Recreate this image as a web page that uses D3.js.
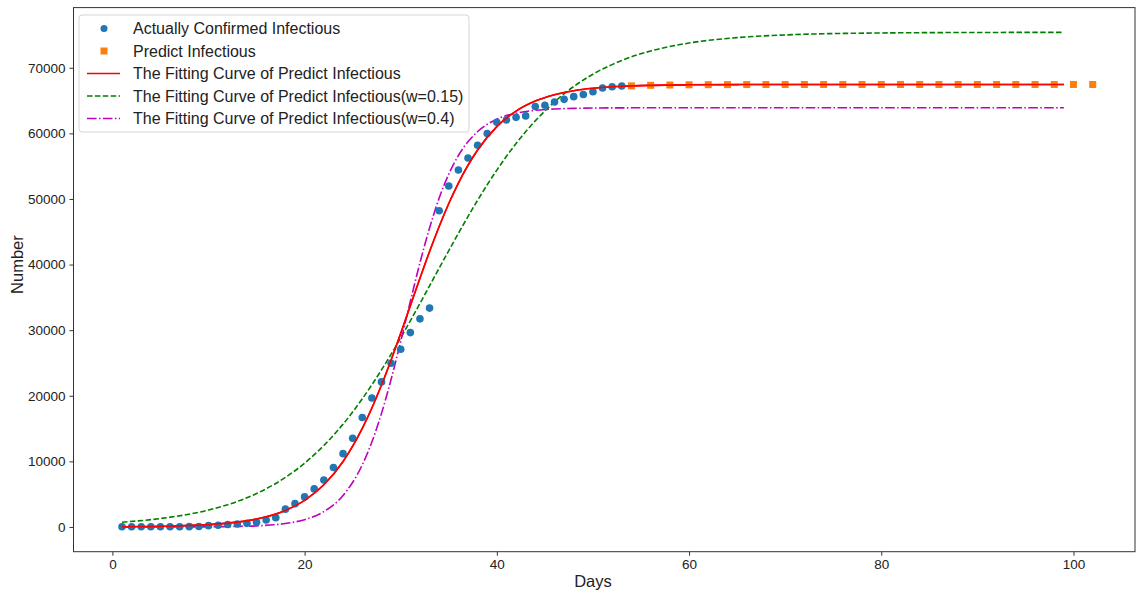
<!DOCTYPE html>
<html>
<head>
<meta charset="utf-8">
<script src="https://cdn.jsdelivr.net/npm/d3@7.9.0/dist/d3.min.js"></script>
<style>
  body { margin: 0; background: #fff; }
  svg { display: block; font-family: "Liberation Sans", Arial, sans-serif; }
</style>
</head>
<body>
<svg id="chart" width="1137" height="594"></svg>
<script>
// --- DATA ---
// actually confirmed, days 1..53
const actualDays = d3.range(1, 54);
const actualValues = [
  41, 41, 41, 41, 41, 41, 41, 45, 62, 198,
  270, 375, 444, 549, 729, 1052, 1423, 2714, 3554, 4586,
  5806, 7153, 9074, 11177, 13522, 16678, 19665, 22112, 24953, 27100,
  29631, 31728, 33366, 48206, 51986, 54406, 56249, 58182, 59989, 61682,
  62031, 62442, 62662, 64084, 64287, 64786, 65187, 65596, 65914, 66337,
  66907, 67103, 67217
];

// predicted, every second day from 54 to 102
const predictDays = d3.range(54, 103, 2);
const predictValues = [
  67235, 67320, 67370, 67402, 67420, 67431, 67438, 67443, 67446, 67447,
  67448, 67449, 67449, 67450, 67450, 67450, 67450, 67450, 67450, 67450,
  67450, 67450, 67450, 67450, 67450
];

// fitted curves, sampled at these days
const curveDays = [1, 5, 10, 13, 15, 18, 20, 22, 24, 26, 27, 28, 29, 30, 31, 32, 33, 34, 35, 36,
  38, 40, 42, 44, 46, 48, 50, 53, 56, 60, 65, 70, 80, 90, 99];
const fitValues = [37, 101, 352, 741, 1210, 2518, 4053, 6431, 9985, 15022,
  18141, 21640, 25465, 29531, 33725, 37918, 41985, 45810, 49310, 52428,
  57464, 61020, 63399, 64931, 65900, 66502, 66872, 67175, 67320, 67402,
  67436, 67446, 67450, 67450, 67450];
const fit015Values = [731, 1287, 2583, 3895, 5098, 7555, 9729, 12422, 15676, 19534,
  21673, 23944, 26337, 28845, 31430, 34071, 36760, 39456, 42123, 44758,
  49802, 54401, 58450, 61905, 64789, 67136, 69016, 71120, 72556, 73770,
  74594, 75003, 75304, 75377, 75395];
const fit04Values = [1, 4, 25, 80, 169, 528, 1117, 2341, 4805, 9467,
  12961, 17317, 22500, 28299, 34373, 40264, 45578, 50130, 53793, 56624,
  60277, 62154, 63071, 63509, 63716, 63810, 63860, 63888, 63897, 63900,
  63900, 63900, 63900, 63900, 63900];

const xTicks = [0, 20, 40, 60, 80, 100];
const yTicks = [0, 10000, 20000, 30000, 40000, 50000, 60000, 70000];

// --- LAYOUT ---
const svg = d3.select("#chart");
const plotL = 73.5, plotR = 1135, plotT = 7.6, plotB = 551.7;

const x = d3.scaleLinear().domain([-4.047, 106.4]).range([plotL, plotR]);
const y = d3.scaleLinear().domain([-3770, 79170]).range([plotB, plotT]);

// axes
const xAxis = svg.append("g")
  .attr("transform", `translate(0,${plotB})`)
  .call(d3.axisBottom(x).tickValues(xTicks).tickSize(4).tickPadding(4));
const yAxis = svg.append("g")
  .attr("transform", `translate(${plotL},0)`)
  .call(d3.axisLeft(y).tickValues(yTicks).tickSize(4).tickPadding(4).tickFormat(d3.format("d")));

[xAxis, yAxis].forEach(g => {
  g.select(".domain").remove();
  g.selectAll("line").attr("stroke", "#333").attr("stroke-width", 1);
  g.selectAll("text").attr("fill", "#222").style("font-size", "13.5px")
    .style("font-family", '"Liberation Sans", Arial, sans-serif');
});

// frame
svg.append("rect")
  .attr("x", plotL).attr("y", plotT)
  .attr("width", plotR - plotL).attr("height", plotB - plotT)
  .attr("fill", "none").attr("stroke", "#333").attr("stroke-width", 1);

// axis labels
svg.append("text")
  .attr("x", x(50)).attr("y", 587)
  .attr("text-anchor", "middle")
  .style("font-size", "16.5px").attr("fill", "#222")
  .text("Days");
svg.append("text")
  .attr("transform", `translate(23,${y(40000)}) rotate(-90)`)
  .attr("text-anchor", "middle")
  .style("font-size", "16.5px").attr("fill", "#222")
  .text("Number");

// --- MARKS ---
const plot = svg.append("g");

const line = d3.line()
  .x(d => x(d[0]))
  .y(d => y(d[1]))
  .curve(d3.curveMonotoneX);

const curves = [
  { values: fit015Values, color: "#008000", dash: "5.5,2.4" },
  { values: fit04Values, color: "#bf00bf", dash: "9.6,2.4,1.5,2.4" },
  { values: fitValues, color: "#ff0000", dash: null }
];

curves.forEach(c => {
  plot.append("path")
    .attr("d", line(d3.zip(curveDays, c.values)))
    .attr("fill", "none")
    .attr("stroke", c.color)
    .attr("stroke-width", 1.6)
    .attr("stroke-dasharray", c.dash);
});

plot.selectAll("circle.actual")
  .data(d3.zip(actualDays, actualValues))
  .join("circle")
  .attr("class", "actual")
  .attr("cx", d => x(d[0]))
  .attr("cy", d => y(d[1]))
  .attr("r", 3.8)
  .attr("fill", "#1f77b4");

plot.selectAll("rect.predict")
  .data(d3.zip(predictDays, predictValues))
  .join("rect")
  .attr("class", "predict")
  .attr("x", d => x(d[0]) - 3.5)
  .attr("y", d => y(d[1]) - 3.5)
  .attr("width", 7).attr("height", 7)
  .attr("fill", "#ff7f0e");

// redraw red line over squares like the reference
plot.append("path")
  .attr("d", line(d3.zip(curveDays, fitValues)))
  .attr("fill", "none")
  .attr("stroke", "#ff0000")
  .attr("stroke-width", 1.6);

// --- LEGEND ---
const legend = svg.append("g");
legend.append("rect")
  .attr("x", 79).attr("y", 15)
  .attr("width", 390).attr("height", 117)
  .attr("rx", 3)
  .attr("fill", "#fff").attr("fill-opacity", 0.8)
  .attr("stroke", "#d5d5d5");

const items = [
  { label: "Actually Confirmed Infectious", kind: "dot", color: "#1f77b4" },
  { label: "Predict Infectious", kind: "square", color: "#ff7f0e" },
  { label: "The Fitting Curve of Predict Infectious", kind: "line", color: "#ff0000", dash: null },
  { label: "The Fitting Curve of Predict Infectious(w=0.15)", kind: "line", color: "#008000", dash: "5.5,2.4" },
  { label: "The Fitting Curve of Predict Infectious(w=0.4)", kind: "line", color: "#bf00bf", dash: "9.6,2.4,1.5,2.4" }
];

items.forEach((it, i) => {
  const cy = 28.5 + i * 22.5;
  if (it.kind === "dot") {
    legend.append("circle").attr("cx", 104).attr("cy", cy).attr("r", 3.5).attr("fill", it.color);
  } else if (it.kind === "square") {
    legend.append("rect").attr("x", 100.5).attr("y", cy - 3.5).attr("width", 7).attr("height", 7).attr("fill", it.color);
  } else {
    legend.append("line")
      .attr("x1", 87).attr("x2", 120).attr("y1", cy).attr("y2", cy)
      .attr("stroke", it.color).attr("stroke-width", 1.6)
      .attr("stroke-dasharray", it.dash);
  }
  legend.append("text")
    .attr("x", 133).attr("y", cy)
    .attr("dy", "0.36em")
    .style("font-size", "16px").attr("fill", "#222")
    .text(it.label);
});
</script>
</body>
</html>
